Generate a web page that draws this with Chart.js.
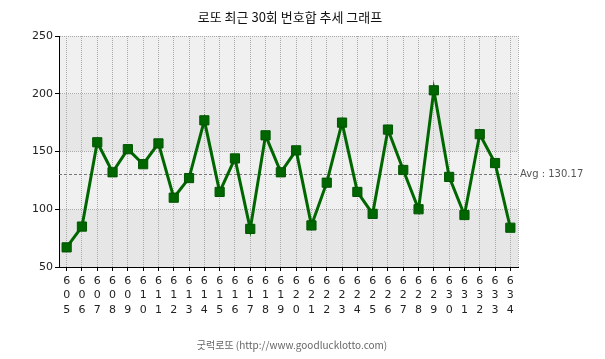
<!DOCTYPE html>
<html>
<head>
<meta charset="utf-8">
<script src="https://cdn.jsdelivr.net/npm/chart.js@4.4.0/dist/chart.umd.min.js"></script>
<style>
html,body{margin:0;padding:0;background:#fff;}
#wrap{width:605px;height:359px;position:relative;}
</style>
</head>
<body>
<div id="wrap"><canvas id="c" width="605" height="359"></canvas></div>
<script>
const chartTitle = '로또 최근 30회 번호합 추세 그래프';
const footerText = '굿럭로또 (http://www.goodlucklotto.com)';
const rounds = [605,606,607,608,609,610,611,612,613,614,615,616,617,618,619,620,621,622,623,624,625,626,627,628,629,630,631,632,633,634];
const sums = [67,85,158,132,152,139,157,110,127,177,115,144,83,164,132,151,86,123,175,115,96,169,134,100,203,128,95,165,140,84];
const avgValue = 130.17;
const yTicks = [50,100,150,200,250];

const labels = rounds.map(r => String(r).split(''));

const bandPlugin = {
  id: 'bands',
  beforeDraw(chart) {
    const {ctx, chartArea: a, scales: {y}} = chart;
    ctx.save();
    ctx.fillStyle = '#ffffff';
    ctx.fillRect(0, 0, chart.width, chart.height);
    for (let i = 0; i < yTicks.length - 1; i++) {
      const top = y.getPixelForValue(yTicks[i + 1]);
      const bot = y.getPixelForValue(yTicks[i]);
      const fromTop = yTicks.length - 2 - i;
      ctx.fillStyle = (fromTop % 2 === 0) ? '#f0f0f0' : '#e6e6e6';
      ctx.fillRect(a.left, top, a.right - a.left, bot - top);
    }
    ctx.restore();
  },
  beforeDatasetsDraw(chart) {
    const {ctx, chartArea: a, scales: {y}} = chart;
    ctx.save();
    ctx.strokeStyle = '#aaaaaa';
    ctx.lineWidth = 1;
    ctx.setLineDash([1, 1]);
    ctx.beginPath();
    ctx.moveTo(Math.round(a.right) + 0.5, a.top);
    ctx.lineTo(Math.round(a.right) + 0.5, a.bottom);
    ctx.stroke();
    const ay = Math.round(y.getPixelForValue(avgValue)) + 0.5;
    ctx.strokeStyle = '#777777';
    ctx.setLineDash([3, 2]);
    ctx.beginPath();
    ctx.moveTo(a.left, ay);
    ctx.lineTo(a.right, ay);
    ctx.stroke();
    ctx.setLineDash([]);
    ctx.fillStyle = '#555555';
    ctx.font = '10px "DejaVu Sans", sans-serif';
    ctx.textAlign = 'left';
    ctx.textBaseline = 'middle';
    ctx.fillText('Avg : ' + avgValue.toFixed(2), a.right + 2, ay);
    ctx.restore();
  },
  afterDraw(chart) {
    const {ctx} = chart;
    ctx.save();
    ctx.textAlign = 'center';
    ctx.textBaseline = 'middle';
    ctx.fillStyle = '#111111';
    ctx.font = '13px "Noto Sans CJK KR", sans-serif';
    ctx.fillText(chartTitle, 290, 17);
    ctx.fillStyle = '#666666';
    ctx.font = '10px "Noto Sans CJK KR", sans-serif';
    ctx.fillText(footerText, 292, 345);
    ctx.restore();
  }
};

new Chart(document.getElementById('c'), {
  type: 'line',
  data: {
    labels: labels,
    datasets: [{
      data: sums,
      borderColor: '#006600',
      backgroundColor: '#006600',
      borderWidth: 3,
      pointStyle: 'rect',
      pointRadius: 6.5,
      pointHoverRadius: 6.5,
      pointBorderColor: '#005500',
      pointBackgroundColor: '#006600',
      pointBorderWidth: 1,
      tension: 0,
      fill: false
    }]
  },
  options: {
    responsive: false,
    animation: false,
    devicePixelRatio: 1,
    layout: { padding: { top: 36, right: 87, left: 0, bottom: 0 } },
    plugins: { legend: { display: false }, title: { display: false }, tooltip: { enabled: false } },
    scales: {
      x: {
        offset: true,
        grid: { offset: false, color: '#aaaaaa', lineWidth: 1, tickColor: '#000000', tickLength: 4, tickBorderDash: [] },
        border: { display: true, color: '#000000', width: 1, dash: [1, 1] },
        ticks: { color: '#222222', font: { family: '"DejaVu Sans", sans-serif', size: 11, lineHeight: 1.3 }, maxRotation: 0, autoSkip: false, padding: 3 },
        afterFit(s) { s.height = 92; }
      },
      y: {
        min: 50, max: 250,
        grid: { color: '#aaaaaa', lineWidth: 1, tickColor: '#000000', tickLength: 4, tickBorderDash: [] },
        border: { display: true, color: '#000000', width: 1, dash: [1, 1] },
        afterBuildTicks(s) { s.ticks = yTicks.map(v => ({value: v})); },
        ticks: { color: '#222222', font: { family: '"DejaVu Sans", sans-serif', size: 11 }, padding: 2 },
        afterFit(s) { s.width = 59; }
      }
    }
  },
  plugins: [bandPlugin]
});
</script>
</body>
</html>
